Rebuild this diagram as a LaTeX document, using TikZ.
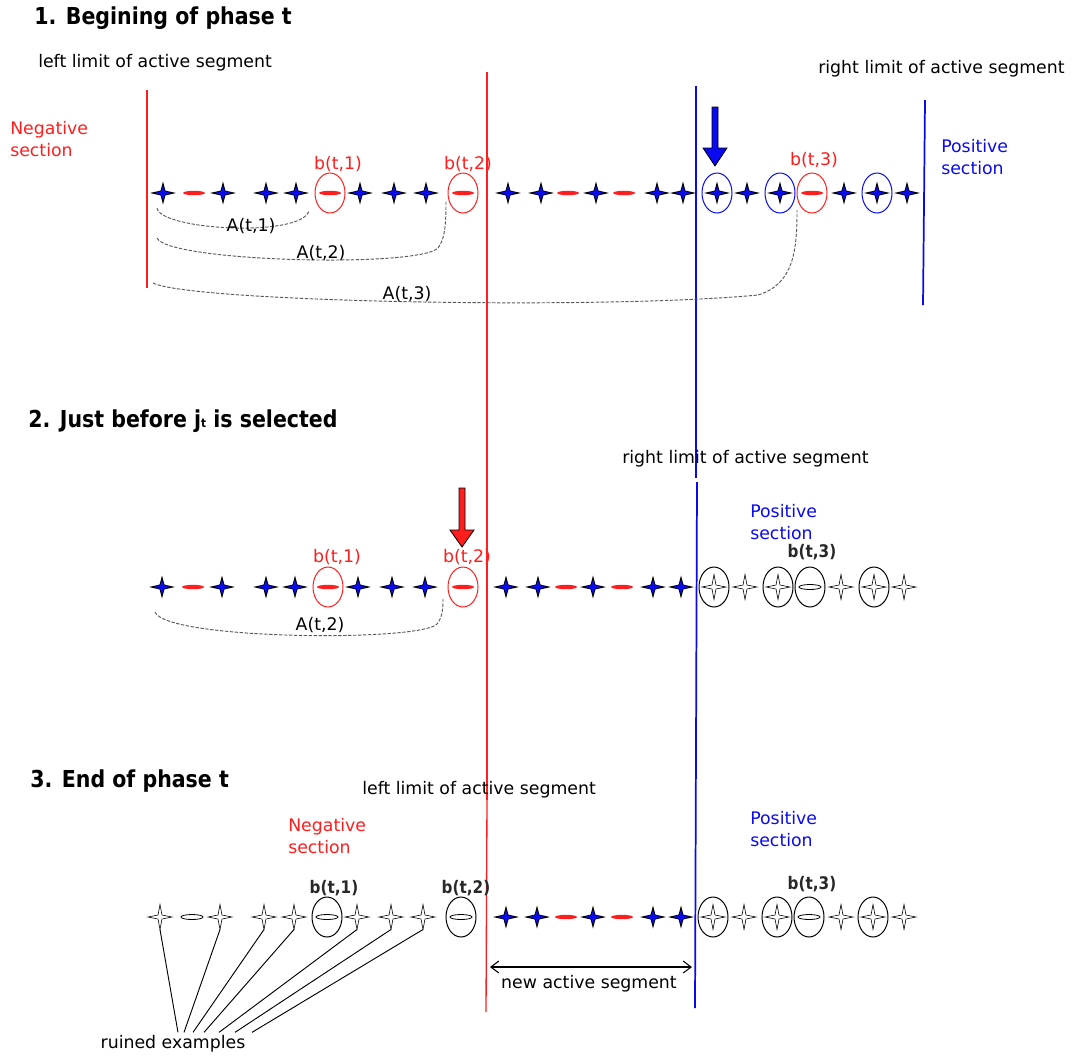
\documentclass[tikz,border=0pt]{standalone}
\usepackage{fontspec}
\setmainfont{DejaVu Sans}
\newfontfamily\titlefont{DejaVu Sans}[FakeStretch=0.88]
\usetikzlibrary{shapes.geometric,arrows.meta,calc}
\definecolor{myred}{RGB}{255,30,30}
\definecolor{myblue}{RGB}{10,10,240}
\definecolor{dgray}{RGB}{40,40,40}
\tikzset{
  txt/.style={inner sep=0pt, font=\fontsize{13}{16.5}\selectfont},
  ttl/.style={inner sep=0pt, anchor=west, font=\titlefont\bfseries\fontsize{17.5}{20}\selectfont},
  blbl/.style={txt, text=dgray, font=\titlefont\bfseries\fontsize{13}{16.5}\selectfont},
  ellbase/.style={ellipse, inner sep=0pt, minimum width=22.5pt, minimum height=30pt, line width=0.75pt},
  rell/.style={ellbase, draw=myred},
  bell/.style={ellbase, draw=myblue},
  kell/.style={ellbase, draw=black},
  arc/.style={dash pattern=on 2.5pt off 1.2pt, draw=black!65, line width=0.7pt},
  bstar/.pic={
    \fill[black] (-13,0) -- (-2.4,-2.4) -- (0,-11.5) -- (2.4,-2.4) -- (13,0) -- (2.4,2.4) -- (0,11.5) -- (-2.4,2.4) -- cycle;
    \fill[myblue] (-8,0) -- (-1.8,-1.8) -- (0,-7) -- (1.8,-1.8) -- (8,0) -- (1.8,1.8) -- (0,7) -- (-1.8,1.8) -- cycle;
    \coordinate (-b) at (0,11.5);
  },
  wstar/.pic={
    \draw[fill=white, line width=0.45pt] (-12,0) -- (-2,-2) -- (0,-12.5) -- (2,-2) -- (12,0) -- (2,2) -- (0,12.5) -- (-2,2) -- cycle;
    \coordinate (-b) at (0,12.5);
  },
  rdash/.pic={\fill[myred] (0,0) ellipse [x radius=11, y radius=2.2];},
  wdash/.pic={\draw[fill=white, line width=0.6pt] (0,0) ellipse [x radius=11, y radius=2.5];}
}
\begin{document}
\begin{tikzpicture}[x=0.75pt,y=-0.75pt]
\useasboundingbox (0,0) rectangle (1073,1057);

% ---------------- vertical limit lines ----------------
\draw[myred, line width=1pt] (147,90) -- (147,288);
\draw[myred, line width=0.9pt] (487,72) -- (487,800);
\draw[myred, line width=1pt] (487,800) -- (486,1012);
\foreach \yy in {74,82,...,800} \fill[myred] (487,\yy) circle[radius=1.2];
\draw[myblue, line width=0.8pt] (696,86) -- (696,478);
\foreach \yy in {88,96,...,476} \fill[myblue] (696,\yy) circle[radius=1];
\draw[myblue, line width=1.3pt] (697,482) -- (695,1008);
\draw[myblue, line width=1.3pt] (925,100) -- (923,305);

% ---------------- texts row 1 ----------------
\node[ttl] (t1) at (34,18) {1. Begining of phase t};
\node[txt, anchor=west] (ll1) at (38,63) {left limit of active segment};
\node[txt, anchor=west] (rl1) at (818,69) {right limit of active segment};
\node[txt, anchor=west, align=left, text=myred] (neg1) at (10,139) {Negative\\section};
\node[txt, anchor=west, align=left, text=myblue] (pos1) at (941,157) {Positive\\section};
\node[txt, text=myred] (lb11) at (338,164) {b(t,1)};
\node[txt, text=myred] (lb12) at (468,164) {b(t,2)};
\node[txt, text=myred] (lb13) at (814,160) {b(t,3)};

% blue arrow
\draw[fill=myblue, line width=0.6pt] (712,107) -- (718,107) -- (718,148) -- (727,148) -- (715,166) -- (703,148) -- (712,148) -- cycle;

% ---------------- items row 1 ----------------
\foreach \x in {330,463,812} \node[rell] at (\x,193) {};
\foreach \x in {717,780,877} \node[bell] at (\x,193) {};
\foreach \x in {194,330,463,568,624,812} \pic at (\x,193) {rdash};
\foreach \x in {163,223,266,296,360,394,426,508,541,596,657,683,717,747,780,844,877,907} \pic at (\x,193) {bstar};

% A curves row 1
\coordinate (a1s) at (157,208); \coordinate (a1e) at (309,211);
\coordinate (a2s) at (157,238); \coordinate (a2e) at (446,200);
\coordinate (a3s) at (153,283); \coordinate (a3e) at (797,210);
\draw[arc] (a1s) .. controls (160,230) and (300,238) .. (a1e);
\draw[arc] (a2s) .. controls (168,262) and (418,268) .. (438,248) .. controls (446,238) and (446,218) .. (a2e);
\draw[arc] (a3s) .. controls (190,302) and (600,310) .. (758,295) .. controls (794,284) and (797,250) .. (a3e);
\node[txt] (A11) at (251,226) {A(t,1)};
\node[txt] (A12) at (321,253) {A(t,2)};
\node[txt] (A13) at (407,294) {A(t,3)};

% ---------------- row 2 ----------------
\node[ttl] (t2) at (28,421) {2. Just before j{\fontsize{9}{9}\selectfont t} is selected};
\node[txt, anchor=west] (rl2) at (622,459) {right limit of active segment};
\node[txt, anchor=west, align=left, text=myblue] (pos2) at (750,522) {Positive\\section};
\node[txt, text=myred] (lb21) at (337,557) {b(t,1)};
\node[txt, text=myred] (lb22) at (467,557) {b(t,2)};
\node[blbl] (lb23) at (812,552) {b(t,3)};

% red arrow
\draw[fill=myred, line width=0.6pt] (459,488) -- (465,488) -- (465,530) -- (474,530) -- (462,547) -- (450,530) -- (459,530) -- cycle;

\foreach \x in {328,463} \node[rell] at (\x,587) {};
\foreach \x in {714,778,810,874} \node[kell] at (\x,587) {};
\foreach \x in {193,328,463,566,622} \pic at (\x,587) {rdash};
\pic at (810,587) {wdash};
\foreach \x in {162,222,266,295,358,392,425,506,538,593,653,681} \pic at (\x,587) {bstar};
\foreach \x in {714,745,778,841,874,904} \pic at (\x,587) {wstar};

\coordinate (b2s) at (155,612); \coordinate (b2e) at (443,598);
\draw[arc] (b2s) .. controls (166,640) and (420,642) .. (437,624) .. controls (443,617) and (443,606) .. (b2e);
\node[txt] (A22) at (320,625) {A(t,2)};

% ---------------- row 3 ----------------
\node[ttl] (t3) at (30,781) {3. End of phase t};
\node[txt, anchor=west] (ll3) at (362,790) {left limit of active segment};
\node[txt, anchor=west, align=left, text=myred] (neg3) at (288,836) {Negative\\section};
\node[txt, anchor=west, align=left, text=myblue] (pos3) at (750,829) {Positive\\section};
\node[blbl] (lb31) at (334,888) {b(t,1)};
\node[blbl] (lb32) at (466,888) {b(t,2)};
\node[blbl] (lb33) at (812,884) {b(t,3)};

\foreach \x in {327,461,713,777,809,873} \node[kell] at (\x,917) {};
\foreach \x in {192,327,461,809} \pic at (\x,917) {wdash};
\foreach \x in {566,622} \pic at (\x,917) {rdash};
\foreach \x in {506,537,593,653,681} \pic at (\x,917) {bstar};
\pic (r1) at (160,917) {wstar};
\pic (r2) at (220,917) {wstar};
\pic (r3) at (264,917) {wstar};
\pic (r4) at (294,917) {wstar};
\pic (r5) at (357,917) {wstar};
\pic (r6) at (391,917) {wstar};
\pic (r7) at (423,917) {wstar};
\foreach \x in {713,744,777,841,873,904} \pic at (\x,917) {wstar};

% new active segment
\coordinate (nsL) at (490,967); \coordinate (nsR) at (692,967);
\draw[{Straight Barb[length=6pt,width=9pt]}-{Straight Barb[length=6pt,width=9pt]}, line width=0.8pt] (nsL) -- (nsR);
\node[txt] (nas) at (589,984) {new active segment};

% ruined examples
\node[txt] (ruin) at (173,1044) {ruined examples};
\draw[line width=0.7pt] (r1-b) -- ($(ruin.north)+(5,-3)$);
\draw[line width=0.7pt] (r2-b) -- ($(ruin.north)+(11,-3)$);
\draw[line width=0.7pt] (r3-b) -- ($(ruin.north)+(20,-3)$);
\draw[line width=0.7pt] (r4-b) -- ($(ruin.north)+(31,-3)$);
\draw[line width=0.7pt] (r5-b) -- ($(ruin.north)+(46,-3)$);
\draw[line width=0.7pt] (r6-b) -- ($(ruin.north)+(62,-3)$);
\draw[line width=0.7pt] (r7-b) -- ($(ruin.north)+(79,-3)$);
\end{tikzpicture}
\end{document}
